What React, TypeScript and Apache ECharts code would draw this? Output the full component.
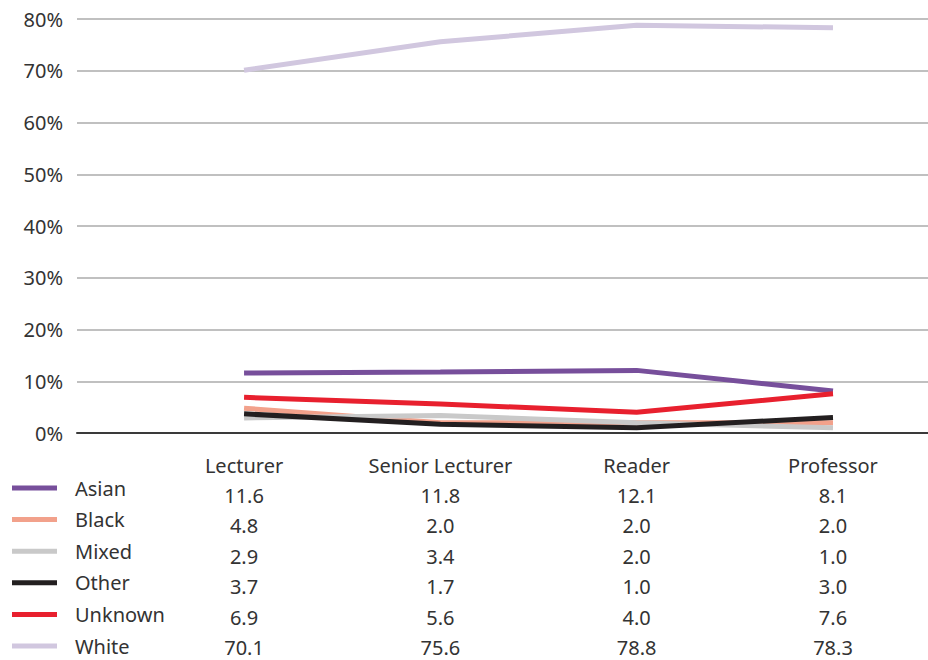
import React, { useEffect, useRef } from "react";
import * as echarts from "echarts";

const categories = ["Lecturer", "Senior Lecturer", "Reader", "Professor"];
const seriesNames = ["Asian", "Black", "Mixed", "Other", "Unknown", "White"];
const asian = [11.6, 11.8, 12.1, 8.1];
const black = [4.8, 2.0, 2.0, 2.0];
const mixed = [2.9, 3.4, 2.0, 1.0];
const other = [3.7, 1.7, 1.0, 3.0];
const unknown = [6.9, 5.6, 4.0, 7.6];
const white = [70.1, 75.6, 78.8, 78.3];
const seriesValues = [asian, black, mixed, other, unknown, white];
const seriesColors = ["#774f9b", "#f2a18b", "#c9c9c9", "#231f20", "#e8202e", "#d1c7df"];

const FONT = "Noto Sans";
const TEXT = "#333333";
const FS = 20;

export default function App() {
  const ref = useRef<HTMLDivElement>(null);

  useEffect(() => {
    if (!ref.current) return;
    const chart = echarts.init(ref.current, undefined, { renderer: "svg" });

    chart.setOption({
      animation: false,
      textStyle: { fontFamily: FONT },
      grid: { left: 77, right: 0, top: 19, bottom: 227, containLabel: false },
      xAxis: {
        type: "value",
        min: -0.851,
        max: 3.484,
        axisLabel: { show: false },
        axisTick: { show: false },
        splitLine: { show: false },
        axisLine: { show: true, lineStyle: { color: "#3a3a3a", width: 2 } },
      },
      yAxis: {
        type: "value",
        min: 0,
        max: 80,
        interval: 10,
        axisLine: { show: false },
        axisTick: { show: false },
        axisLabel: {
          formatter: "{value}%",
          fontSize: FS,
          color: TEXT,
          fontFamily: FONT,
          margin: 14,
        },
        splitLine: { lineStyle: { color: "#ababab", width: 1.5 } },
      },
      legend: {
        orient: "vertical",
        left: 12,
        top: 478,
        padding: 0,
        height: 200,
        icon: "rect",
        itemWidth: 45,
        itemHeight: 5,
        itemGap: 11.6,
        selectedMode: false,
        textStyle: {
          fontSize: FS,
          lineHeight: 20,
          color: TEXT,
          fontFamily: FONT,
          padding: [0, 0, 0, 13],
        },
        data: seriesNames,
      },
      series: seriesNames.map((name, i) => ({
        name,
        type: "line",
        symbol: "none",
        data: seriesValues[i].map((v, j) => [j, v]),
        itemStyle: { color: seriesColors[i] },
        lineStyle: { color: seriesColors[i], width: 5 },
        z: 3,
      })),
    });

    // Data table beneath the plot, aligned with each category's x position
    const headerY = 465;
    const rowY0 = 495;
    const rowStep = 30.5;
    const graphics: any[] = [];
    categories.forEach((cat, j) => {
      const x = chart.convertToPixel({ xAxisIndex: 0 }, j) as number;
      graphics.push({
        type: "text",
        x,
        y: headerY,
        style: {
          text: cat,
          fontSize: FS,
          fontFamily: FONT,
          fill: TEXT,
          align: "center",
          verticalAlign: "middle",
        },
      });
      seriesValues.forEach((vals, i) => {
        graphics.push({
          type: "text",
          x,
          y: rowY0 + i * rowStep,
          style: {
            text: vals[j].toFixed(1),
            fontSize: FS,
            fontFamily: FONT,
            fill: TEXT,
            align: "center",
            verticalAlign: "middle",
          },
        });
      });
    });
    chart.setOption({ graphic: graphics });

    return () => chart.dispose();
  }, []);

  return (
    <div
      ref={ref}
      style={{ position: "absolute", left: 0, top: 0, width: 928, height: 660 }}
    />
  );
}
